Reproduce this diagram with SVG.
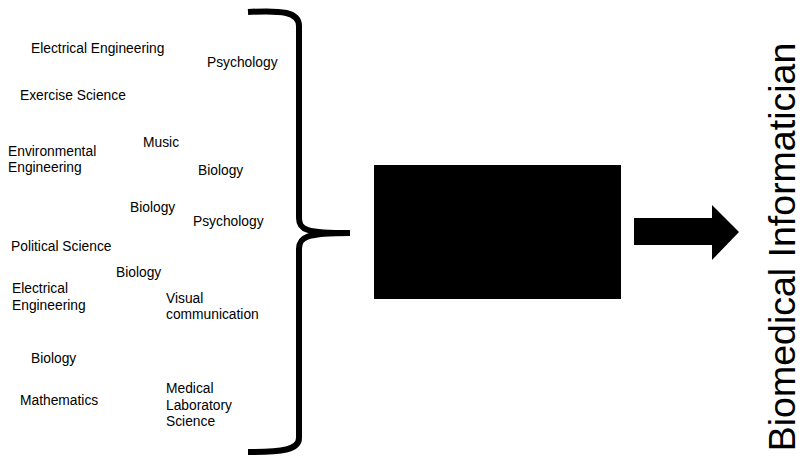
<svg xmlns="http://www.w3.org/2000/svg" width="803" height="457" viewBox="0 0 803 457">
<style>
.t{font-family:"Liberation Sans",Arial,sans-serif;font-size:13.8px;fill:#000}
.big{font-family:"Liberation Sans",Arial,sans-serif;font-size:37.5px;fill:#000}
</style>
<rect width="803" height="457" fill="#fff"/>
<g id="labels">
<text class="t" x="31" y="53">Electrical Engineering</text>
<text class="t" x="207" y="67">Psychology</text>
<text class="t" x="20" y="100">Exercise Science</text>
<text class="t" x="143" y="147">Music</text>
<text class="t" x="8" y="156">Environmental</text>
<text class="t" x="8" y="172">Engineering</text>
<text class="t" x="198" y="175">Biology</text>
<text class="t" x="130" y="212">Biology</text>
<text class="t" x="193" y="226">Psychology</text>
<text class="t" x="11" y="251">Political Science</text>
<text class="t" x="116" y="277">Biology</text>
<text class="t" x="12" y="293">Electrical</text>
<text class="t" x="12" y="310">Engineering</text>
<text class="t" x="166" y="303">Visual</text>
<text class="t" x="166" y="319">communication</text>
<text class="t" x="31" y="363">Biology</text>
<text class="t" x="20" y="405">Mathematics</text>
<text class="t" x="166" y="393">Medical</text>
<text class="t" x="166" y="410">Laboratory</text>
<text class="t" x="166" y="426">Science</text>
</g>
<g id="brace">
<path d="M 248 12 C 282 10 299 12 299 26 L 299 218 C 299 230 306 233 350 233 C 306 233 299 237 299 249 L 299 438 C 299 450 282 452 248 452" fill="none" stroke="#000" stroke-width="6"/>
</g>
<g id="box">
<rect x="374" y="165" width="247" height="134" fill="#000"/>
</g>
<g id="connectors">
<polygon points="634,218 712,218 712,205 739,232 712,260 712,245 634,245" fill="#000"/>
</g>
<g id="result">
<text class="big" transform="translate(795,247) rotate(-90)" text-anchor="middle">Biomedical Informatician</text>
</g>
</svg>
